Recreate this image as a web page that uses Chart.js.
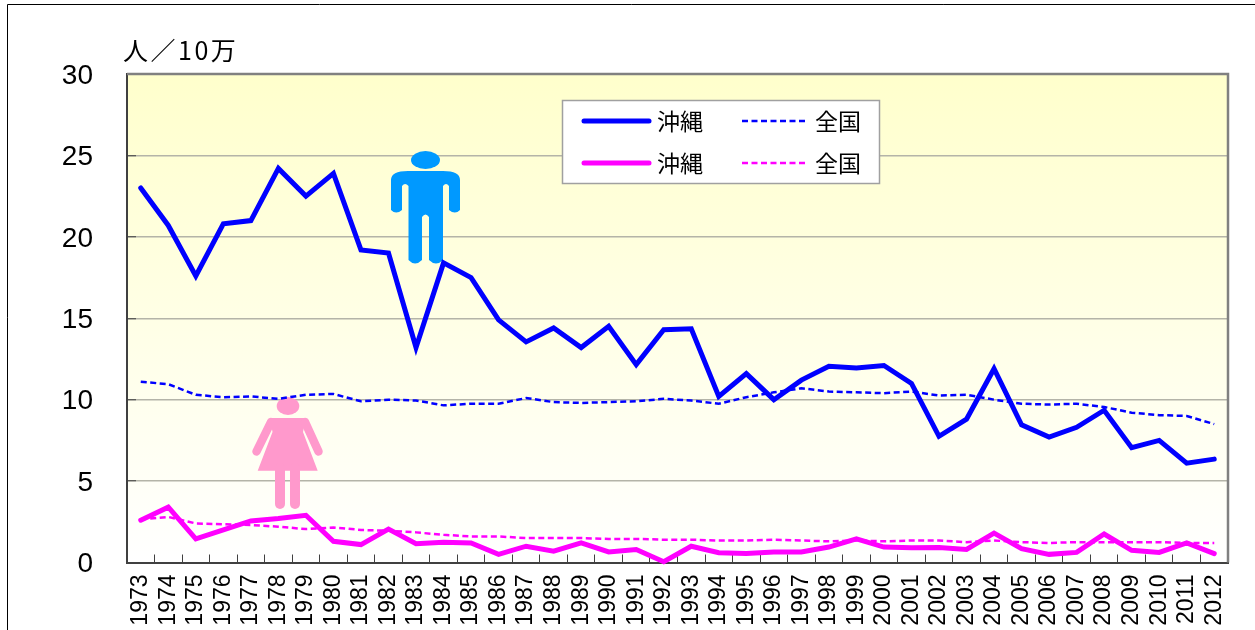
<!DOCTYPE html>
<html lang="ja"><head><meta charset="utf-8">
<style>html,body{margin:0;padding:0;background:#fff;overflow:hidden}canvas{display:block}</style>
<script src="https://cdn.jsdelivr.net/npm/chart.js@4"></script></head>
<body><canvas id="c" width="1255" height="630"></canvas>
<script>
const years=['1973','1974','1975','1976','1977','1978','1979','1980','1981','1982','1983','1984','1985','1986','1987','1988','1989','1990','1991','1992','1993','1994','1995','1996','1997','1998','1999','2000','2001','2002','2003','2004','2005','2006','2007','2008','2009','2010','2011','2012'];
const okinawaMen=[23.0,20.7,17.6,20.8,21.0,24.2,22.5,23.9,19.2,19.0,13.2,18.4,17.5,14.9,13.55,14.4,13.2,14.5,12.15,14.3,14.35,10.2,11.6,10.0,11.2,12.05,11.95,12.1,11.0,7.75,8.8,11.9,8.45,7.7,8.3,9.35,7.05,7.5,6.1,6.35];
const nationalMen=[11.1,10.95,10.3,10.15,10.2,10.05,10.3,10.35,9.9,10.0,9.95,9.65,9.75,9.75,10.1,9.85,9.8,9.85,9.9,10.05,9.95,9.75,10.15,10.45,10.7,10.5,10.45,10.4,10.5,10.25,10.3,10.0,9.75,9.7,9.75,9.55,9.2,9.05,9.0,8.5];
const okinawaWomen=[2.6,3.4,1.45,2.0,2.55,2.7,2.9,1.3,1.1,2.05,1.15,1.25,1.2,0.5,1.0,0.7,1.2,0.65,0.8,0.05,1.0,0.6,0.55,0.65,0.65,0.95,1.45,0.95,0.9,0.92,0.8,1.8,0.85,0.5,0.62,1.75,0.75,0.62,1.2,0.55];
const nationalWomen=[2.65,2.8,2.4,2.35,2.3,2.2,2.05,2.15,2.0,1.95,1.85,1.7,1.6,1.6,1.5,1.5,1.5,1.45,1.45,1.4,1.4,1.35,1.35,1.4,1.35,1.3,1.35,1.3,1.35,1.35,1.25,1.35,1.25,1.2,1.25,1.25,1.25,1.25,1.2,1.2];
const unitLabel='人／10万';
const seriesOkinawa='沖縄', seriesNational='全国';
const CJK='"Noto Sans CJK JP"';

function man(ctx){
  ctx.fillStyle='#0099ff';
  ctx.beginPath();ctx.ellipse(425.5,160,14.5,9,0,0,Math.PI*2);ctx.fill();
  ctx.beginPath();
  ctx.moveTo(391,180);ctx.quadraticCurveTo(391,171,408,171);ctx.lineTo(443,171);ctx.quadraticCurveTo(460,171,460,180);
  ctx.lineTo(460,210);ctx.quadraticCurveTo(455,215,449,210);ctx.lineTo(449,186);ctx.quadraticCurveTo(446,182,443,186);
  ctx.lineTo(443,260);ctx.quadraticCurveTo(436,267,429,260);ctx.lineTo(429,217);ctx.quadraticCurveTo(425.5,212,422,217);
  ctx.lineTo(422,260);ctx.quadraticCurveTo(415,267,408.5,260);ctx.lineTo(408.5,186);ctx.quadraticCurveTo(405,182,402,186);
  ctx.lineTo(402,210);ctx.quadraticCurveTo(396,215,391,210);ctx.closePath();ctx.fill();
}
function woman(ctx){
  ctx.fillStyle='#ff99cc';ctx.strokeStyle='#ff99cc';
  ctx.beginPath();ctx.ellipse(288,406,11.3,9,0,0,Math.PI*2);ctx.fill();
  ctx.beginPath();ctx.moveTo(270,418);ctx.lineTo(306,418);ctx.lineTo(303,432);ctx.lineTo(317.7,470.7);ctx.lineTo(257.7,470.7);ctx.lineTo(272.5,432);ctx.closePath();ctx.fill();
  ctx.lineCap='round';ctx.lineWidth=8.5;
  [[271,422,256.5,451.5],[305,422,318.5,451.5]].forEach(a=>{ctx.beginPath();ctx.moveTo(a[0],a[1]);ctx.lineTo(a[2],a[3]);ctx.stroke();});
  ctx.lineWidth=10;
  [[280,468,280,504],[295,468,295,504]].forEach(a=>{ctx.beginPath();ctx.moveTo(a[0],a[1]);ctx.lineTo(a[2],a[3]);ctx.stroke();});
}
const decor={
  id:'decor',
  beforeDraw(chart){
    const {ctx,chartArea:a}=chart;
    ctx.save();
    ctx.fillStyle='#fff';ctx.fillRect(0,0,chart.width,chart.height);
    ctx.strokeStyle='#000';ctx.lineWidth=1;ctx.beginPath();ctx.moveTo(7.5,630);ctx.lineTo(7.5,4.5);ctx.lineTo(1255,4.5);ctx.stroke();
    const g=ctx.createLinearGradient(0,a.top,0,a.bottom);
    g.addColorStop(0,'#ffffcc');g.addColorStop(1,'#ffffff');
    ctx.fillStyle=g;ctx.fillRect(a.left,a.top,a.right-a.left,a.bottom-a.top);
    ctx.restore();
  },
  beforeDatasetsDraw(chart){
    const {ctx,chartArea:a}=chart;
    ctx.save();
    ctx.strokeStyle='#808080';ctx.lineWidth=2.5;ctx.beginPath();ctx.moveTo(a.left,a.top);ctx.lineTo(a.right,a.top);ctx.lineTo(a.right,a.bottom);ctx.stroke();
    man(ctx);woman(ctx);
    ctx.restore();
  },
  afterDatasetsDraw(chart){
    const {ctx}=chart;
    ctx.save();
    ctx.fillStyle='#fff';ctx.strokeStyle='#a0a0a0';ctx.lineWidth=1.5;
    ctx.fillRect(562.5,100.5,317,83);ctx.strokeRect(562.5,100.5,317,83);
    [[121,'#0000ff'],[163,'#ff00ff']].forEach(r=>{
      ctx.strokeStyle=r[1];
      ctx.setLineDash([]);ctx.lineWidth=5;ctx.lineCap='round';
      ctx.beginPath();ctx.moveTo(584,r[0]);ctx.lineTo(649,r[0]);ctx.stroke();
      ctx.setLineDash([6,3.5]);ctx.lineWidth=2.5;ctx.lineCap='butt';
      ctx.beginPath();ctx.moveTo(742,r[0]);ctx.lineTo(808,r[0]);ctx.stroke();
      ctx.setLineDash([]);
      ctx.fillStyle='#000';ctx.font='23px '+CJK;ctx.textBaseline='middle';ctx.textAlign='left';
      ctx.fillText(seriesOkinawa,657,r[0]);
      ctx.fillText(seriesNational,815,r[0]);
    });
    ctx.fillStyle='#000';ctx.font='25px '+CJK;ctx.textBaseline='alphabetic';ctx.textAlign='left';
    ctx.letterSpacing='2.5px';
    ctx.fillText(unitLabel,123,60);
    ctx.restore();
  }
};
const line=(label,data,color,w,dash)=>({label,data,borderColor:color,backgroundColor:color,borderWidth:w,borderDash:dash,pointRadius:0,tension:0,borderCapStyle:dash.length?'butt':'round',borderJoinStyle:'miter',fill:false,clip:false});
new Chart(document.getElementById('c'),{
  type:'line',
  data:{labels:years,datasets:[
    line(seriesNational,nationalMen,'#0000ff',2.5,[6,3.5]),
    line(seriesNational,nationalWomen,'#ff00ff',2.5,[6,3.5]),
    line(seriesOkinawa,okinawaMen,'#0000ff',5,[]),
    line(seriesOkinawa,okinawaWomen,'#ff00ff',5,[])
  ]},
  options:{
    responsive:false,animation:false,devicePixelRatio:1,
    layout:{padding:{top:74,right:27,left:0,bottom:0}},
    plugins:{legend:{display:false},tooltip:{enabled:false},title:{display:false}},
    scales:{
      x:{offset:true,
        afterFit(s){s.height=67.5;s.paddingLeft=0;s.paddingRight=0;},
        grid:{offset:true,drawOnChartArea:false,drawTicks:true,tickLength:-8,tickColor:'#404040',tickWidth:1},
        border:{color:'#404040',width:2},
        ticks:{autoSkip:false,minRotation:90,maxRotation:90,padding:20,color:'#000',font:{family:'"Liberation Sans"',size:23}}
      },
      y:{min:0,max:30,
        afterFit(s){s.width=127;s.paddingTop=0;s.paddingBottom=0;},
        grid:{color:'#b4b4a8',lineWidth:1.5,drawTicks:true,tickLength:-9,tickColor:'#404040',tickWidth:1},
        border:{color:'#404040',width:2},
        ticks:{stepSize:5,padding:43,color:'#000',font:{family:'"Liberation Sans"',size:28,lineHeight:'4px'},callback:v=>['',String(v)]}
      }
    }
  },
  plugins:[decor]
});
</script></body></html>
